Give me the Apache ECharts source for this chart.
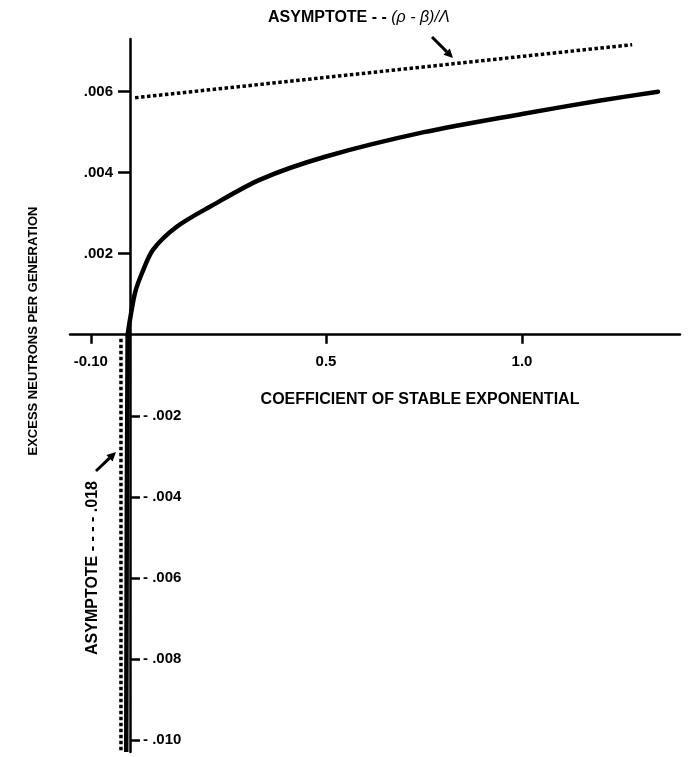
<!DOCTYPE html>
<html>
<head>
<meta charset="utf-8">
<script src="https://cdn.jsdelivr.net/npm/echarts@6/dist/echarts.min.js"></script>
<style>
html,body{margin:0;padding:0;background:#fff;}
#chart{width:689px;height:757px;}
</style>
</head>
<body>
<div id="chart"></div>
<script>
// ---- data ----
// positive branch of the curve: coefficient of stable exponential (omega) vs excess neutrons per generation (rho)
const curvePosOmega = [-0.006, 0.0, 0.013, 0.031, 0.059, 0.120, 0.204, 0.332, 0.50, 0.75, 1.00, 1.20, 1.347];
const curvePosRho   = [0.0, 0.00037, 0.00104, 0.00153, 0.0021, 0.00267, 0.00316, 0.00383, 0.0044, 0.0050, 0.00545, 0.00578, 0.0060];
// negative branch (nearly vertical, approaching the slow-mode asymptote)
const curveNegOmega = [-0.006, -0.007, -0.008, -0.0085, -0.009, -0.0095];
const curveNegRho   = [0.0, -0.002, -0.004, -0.006, -0.008, -0.0103];
// asymptotes
const asymTopOmega = [0.013, 1.281];
const asymTopRho   = [0.00585, 0.00716];
const asymVertOmega = [-0.023, -0.023];
const asymVertRho   = [-0.0001, -0.0103];
// axis ranges and tick labels
const xMin = -0.153, xMax = 1.403;
const yMin = -0.0103, yMax = 0.0073;
const xTickValues = [-0.10, 0.5, 1.0];
const xTickLabels = ['-0.10', '0.5', '1.0'];
const yPosTickValues = [0.002, 0.004, 0.006];
const yPosTickLabels = ['.002', '.004', '.006'];
const yNegTickValues = [-0.002, -0.004, -0.006, -0.008, -0.010];
const yNegTickLabels = ['- .002', '- .004', '- .006', '- .008', '- .010'];

const zip = (a, b) => a.map((v, i) => [v, b[i]]);
const lookup = (vals, labels) => (v) => {
  const i = vals.findIndex(t => Math.abs(t - v) < 1e-9);
  return i >= 0 ? labels[i] : '';
};

const FONT = "'Liberation Sans', Arial, sans-serif";
const lab = { color: '#000', fontFamily: FONT, fontWeight: 'bold', fontSize: 15 };

const G = { left: 70, top: 39, width: 610, height: 713 };
// axes cross at zero: shift the edge axes inward onto the zero lines
const xAxisShift = -G.height * (0 - yMin) / (yMax - yMin);
const yLeftShift = -G.width * (0 - xMin) / (xMax - xMin);
const yRightShift = -G.width * (xMax - 0) / (xMax - xMin);

const chart = echarts.init(document.getElementById('chart'), null, { renderer: 'canvas' });

function arrow(x1, y1, x2, y2) {
  const ang = Math.atan2(y2 - y1, x2 - x1);
  const L = 9, W = 4.5;
  const bx = x2 - L * Math.cos(ang), by = y2 - L * Math.sin(ang);
  const px = -Math.sin(ang) * W, py = Math.cos(ang) * W;
  return [
    { type: 'line', shape: { x1: x1, y1: y1, x2: bx, y2: by }, style: { stroke: '#000', lineWidth: 3 } },
    { type: 'polygon', shape: { points: [[x2, y2], [bx + px, by + py], [bx - px, by - py]] }, style: { fill: '#000' } }
  ];
}

const option = {
  backgroundColor: '#fff',
  animation: false,
  grid: { left: G.left, width: G.width, top: G.top, height: G.height, containLabel: false, outerBoundsMode: 'none' },
  xAxis: [{
    type: 'value', min: xMin, max: xMax, position: 'bottom', offset: xAxisShift,
    axisLine: { onZero: false, lineStyle: { color: '#000', width: 2.5 } },
    axisTick: { show: true, length: 9, lineStyle: { color: '#000', width: 2.5 }, customValues: xTickValues },
    axisLabel: Object.assign({ customValues: xTickValues, formatter: lookup(xTickValues, xTickLabels), margin: 20 }, lab),
    splitLine: { show: false }
  }],
  yAxis: [{
    type: 'value', min: yMin, max: yMax, position: 'left', offset: yLeftShift,
    axisLine: { onZero: false, lineStyle: { color: '#000', width: 2.5 } },
    axisTick: { show: true, length: 12, lineStyle: { color: '#000', width: 2.5 }, customValues: yPosTickValues },
    axisLabel: Object.assign({ customValues: yPosTickValues, formatter: lookup(yPosTickValues, yPosTickLabels), margin: 17 }, lab),
    splitLine: { show: false }
  }, {
    type: 'value', min: yMin, max: yMax, position: 'right', offset: yRightShift,
    axisLine: { show: false, onZero: false },
    axisTick: { show: true, length: 10, lineStyle: { color: '#000', width: 2.5 }, customValues: yNegTickValues },
    axisLabel: Object.assign({ customValues: yNegTickValues, formatter: lookup(yNegTickValues, yNegTickLabels), margin: 13 }, lab),
    splitLine: { show: false }
  }],
  series: [
    { type: 'line', data: zip(curvePosOmega, curvePosRho), smooth: 0.3,
      showSymbol: false, lineStyle: { color: '#000', width: 4.5, cap: 'round' }, z: 5 },
    { type: 'line', data: zip(curveNegOmega, curveNegRho), smooth: false,
      showSymbol: false, lineStyle: { color: '#000', width: 4.5 }, z: 5 },
    { type: 'line', data: zip(asymTopOmega, asymTopRho),
      showSymbol: false, lineStyle: { color: '#000', width: 3.5, type: [3.5, 2.5] }, z: 4 },
    { type: 'line', data: zip(asymVertOmega, asymVertRho),
      showSymbol: false, lineStyle: { color: '#000', width: 3.5, type: [3.5, 2.5] }, z: 4 }
  ],
  graphic: [
    { type: 'text', x: 420, y: 400, style: { text: 'COEFFICIENT OF STABLE EXPONENTIAL', fill: '#000',
      font: "bold 16px " + FONT, align: 'center', verticalAlign: 'middle' } },
    { type: 'text', x: 33, y: 331, rotation: Math.PI / 2, style: { text: 'EXCESS NEUTRONS PER GENERATION', fill: '#000',
      font: "bold 13px " + FONT, align: 'center', verticalAlign: 'middle' } },
    { type: 'text', x: 268, y: 18, style: { text: '{b|ASYMPTOTE - - }{i|(\u03C1 - \u03B2)/\u039B}', fill: '#000',
      align: 'left', verticalAlign: 'middle',
      rich: { b: { font: "bold 16px " + FONT, fill: '#000' }, i: { font: "italic 16px " + FONT, fill: '#000' } } } },
    { type: 'text', x: 93, y: 568, rotation: Math.PI / 2, style: { text: 'ASYMPTOTE - - - - .018', fill: '#000',
      font: "bold 16px " + FONT, align: 'center', verticalAlign: 'middle' } }
  ].concat(arrow(432, 37, 453, 58)).concat(arrow(96, 471, 116, 452))
};
chart.setOption(option);
</script>
</body>
</html>
